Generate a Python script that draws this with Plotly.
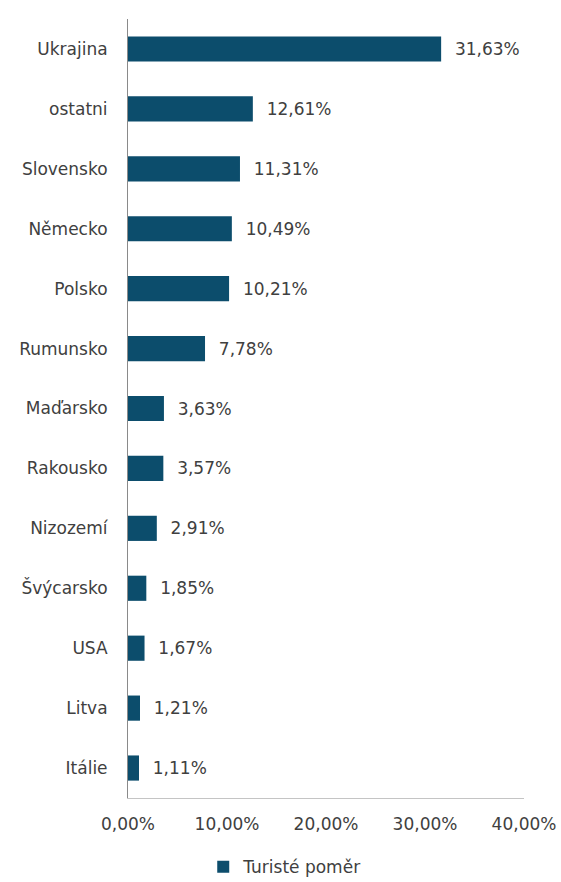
import plotly.graph_objects as go

countries = ["Ukrajina", "ostatni", "Slovensko", "Německo", "Polsko", "Rumunsko",
             "Maďarsko", "Rakousko", "Nizozemí", "Švýcarsko", "USA", "Litva", "Itálie"]
shares = [31.63, 12.61, 11.31, 10.49, 10.21, 7.78, 3.63, 3.57, 2.91, 1.85, 1.67, 1.21, 1.11]
x_ticks = [0, 10, 20, 30, 40]
series_name = "Turisté poměr"


def pct(v):
    return f"{v:.2f}%".replace(".", ",")


bar_color = "#0c4d6c"
text_color = "#404040"
font_family = "'DejaVu Sans', sans-serif"
font_size = 17

fig = go.Figure(
    go.Bar(
        x=shares,
        y=countries,
        orientation="h",
        name=series_name,
        marker=dict(color=bar_color, line=dict(width=0)),
        width=0.42,
        text=[pct(v) for v in shares],
        texttemplate="  %{text}",
        textposition="outside",
        textfont=dict(size=font_size, color=text_color, family=font_family),
        cliponaxis=False,
        showlegend=True,
    )
)

fig.update_layout(
    width=561,
    height=882,
    margin=dict(l=128, r=37, t=19, b=84, autoexpand=False),
    paper_bgcolor="white",
    plot_bgcolor="white",
    font=dict(family=font_family, size=font_size, color=text_color),
    legend=dict(
        orientation="h",
        x=0.19,
        xanchor="left",
        y=-0.112,
        yanchor="bottom",
        font=dict(size=font_size, color=text_color),
        itemwidth=30,
        borderwidth=0,
    ),
)

fig.update_yaxes(
    categoryorder="array",
    categoryarray=countries[::-1],
    showline=True,
    linecolor="#8a8a8a",
    linewidth=1,
    showgrid=False,
    ticks="",
    ticklabelstandoff=16,
    tickfont=dict(size=font_size, color=text_color),
)

fig.update_xaxes(
    range=[0, 40],
    tickmode="array",
    tickvals=x_ticks,
    ticktext=[pct(v) for v in x_ticks],
    ticklabeloverflow="allow",
    showline=True,
    linecolor="#c4c4c4",
    linewidth=1,
    showgrid=False,
    zeroline=False,
    ticks="",
    ticklabelstandoff=11,
    tickfont=dict(size=font_size, color=text_color),
)

fig.write_html("out.html")
